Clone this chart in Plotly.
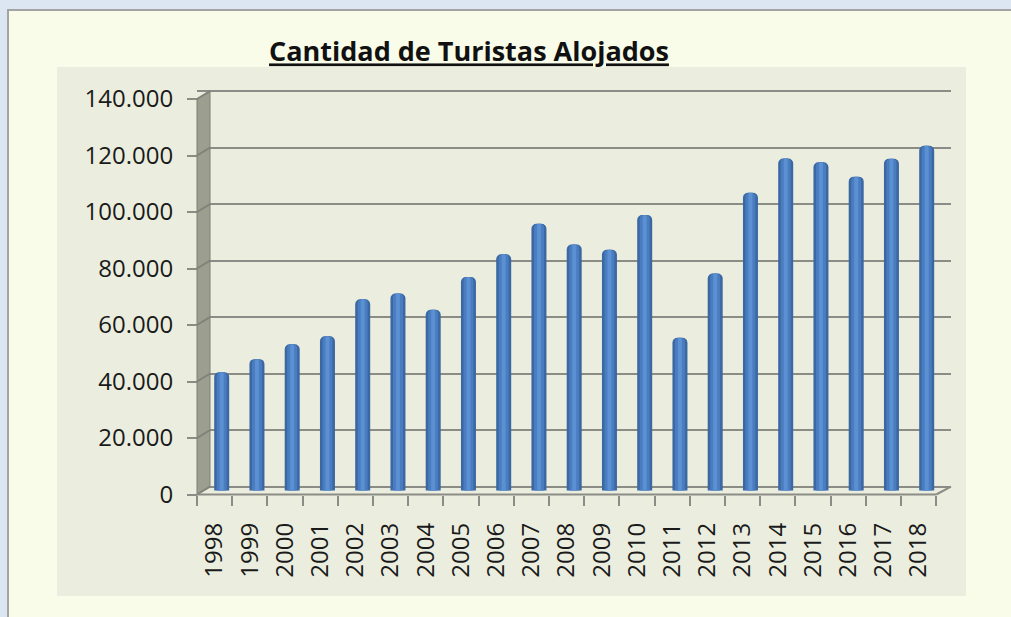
import plotly.graph_objects as go

# ---------------- data ----------------
years = ["1998", "1999", "2000", "2001", "2002", "2003", "2004", "2005", "2006", "2007",
         "2008", "2009", "2010", "2011", "2012", "2013", "2014", "2015", "2016", "2017", "2018"]
turistas = [41900, 46500, 51800, 54600, 67700, 69700, 64000, 75600, 83600, 94400,
            87100, 85200, 97500, 54100, 76800, 105400, 117500, 116200, 111100, 117400, 122000]
y_tickvals = [0, 20000, 40000, 60000, 80000, 100000, 120000, 140000]
y_ticktext = ["0", "20.000", "40.000", "60.000", "80.000", "100.000", "120.000", "140.000"]
title_text = "Cantidad de Turistas Alojados"

# ---------------- geometry (pixels) ----------------
W, H = 1011, 617
L, R, T, B = 197, 60, 90, 122          # plot area: x 197..951, y 90..495
PW, PH = W - L - R, H - T - B
bottom_px = H - B
K = 354.0                               # data units per pixel (vertical)
back0, mid0, front0 = 486.6, 490.5, 494.5   # pixel rows of value 0 on back / mid / front planes
slot = 35.25
bar_c0 = 221.7                          # pixel of first bar centre (mid plane)
front_slot = 35.2
depth_dx = 13                           # back wall is 13 px right of front

def yr(zero_px):
    return [(zero_px - bottom_px) * K, (zero_px - T) * K]

def px(xp):
    return (xp - L) / PW

def py(yp):
    return (bottom_px - yp) / PH

# colours
paper_blue = "#dce6f2"
frame_fill = "#f8fce9"
plot_fill = "#ebeedf"
grid_col = "#8c8c86"
wall_col = "#9c9f8f"

fig = go.Figure()

# empty trace on the back-wall axes so their gridlines are drawn
fig.add_trace(go.Scatter(x=years, y=[None] * len(years), xaxis="x", yaxis="y",
                         mode="markers", showlegend=False, hoverinfo="skip"))

# cylinder-like bars: dark outer, mid, light centre
bar_layers = [(15 / slot, "#3b67a2", 5), (10 / slot, "#4a7dc0", 4), (4 / slot, "#5b90d3", 2)]
for w, c, cr in bar_layers:
    fig.add_trace(go.Bar(x=years, y=turistas, width=w, marker=dict(color=c, line=dict(width=0), cornerradius=cr),
                         xaxis="x", yaxis="y2", hoverinfo="x+y", showlegend=False))

# invisible trace to activate front axes
fig.add_trace(go.Scatter(x=years, y=[None] * len(years), xaxis="x2", yaxis="y3",
                         mode="markers", showlegend=False, hoverinfo="skip"))

shapes = []
# outer frame and inner plot background (paper coords)
shapes.append(dict(type="rect", xref="paper", yref="paper", layer="below",
                   x0=px(8), x1=px(1030), y0=py(10), y1=py(640),
                   fillcolor=frame_fill, line=dict(color="#a3a3a3", width=2)))
shapes.append(dict(type="rect", xref="paper", yref="paper", layer="below",
                   x0=px(57), x1=px(966), y0=py(67), y1=py(596),
                   fillcolor=plot_fill, line=dict(width=0)))

# side wall
top_v = y_tickvals[-1]
back_top = back0 - top_v / K
front_top = front0 - top_v / K
wall_path = (f"M {px(L)},{py(front0)} L {px(L)},{py(front_top)} "
             f"L {px(L + depth_dx)},{py(back_top)} L {px(L + depth_dx)},{py(back0)} Z")
shapes.append(dict(type="path", path=wall_path, xref="paper", yref="paper", layer="above",
                   fillcolor=wall_col, line=dict(color="#7d8072", width=1)))
for v in y_tickvals:
    shapes.append(dict(type="line", xref="paper", yref="paper", layer="above",
                       x0=px(L), y0=py(front0 - v / K), x1=px(L + depth_dx), y1=py(back0 - v / K),
                       line=dict(color="#808379", width=2)))

# floor edges
front_right = L + front_slot * len(years)
shapes.append(dict(type="line", xref="paper", yref="paper", layer="above",
                   x0=px(L), y0=py(front0), x1=px(front_right), y1=py(front0),
                   line=dict(color=grid_col, width=2)))
shapes.append(dict(type="line", xref="paper", yref="paper", layer="above",
                   x0=px(front_right), y0=py(front0), x1=px(W - R), y1=py(back0),
                   line=dict(color=grid_col, width=2)))

fig.update_layout(
    width=W, height=H,
    margin=dict(l=L, r=R, t=T, b=B, pad=0),
    paper_bgcolor=paper_blue,
    plot_bgcolor="rgba(0,0,0,0)",
    barmode="overlay",
    title=dict(text=title_text, x=469 / W, xanchor="center", xref="container",
               y=1 - 52 / H, yanchor="middle", yref="container",
               font=dict(family="Open Sans", size=27, color="#111111", weight="bold", lineposition="under")),
    font=dict(family="Open Sans", color="#1a1a1a"),
    shapes=shapes,
    xaxis=dict(type="category", range=[(L - bar_c0) / slot, (W - R - bar_c0) / slot],
               showticklabels=False, showgrid=False, zeroline=False, showline=False, ticks=""),
    xaxis2=dict(type="category", overlaying="x", anchor="y", side="bottom",
                range=[-0.5, -0.5 + PW / front_slot], tickson="boundaries",
                ticks="outside", ticklen=10, tickwidth=2, tickcolor=grid_col,
                tickangle=-90, tickfont=dict(size=24, color="#1a1a1a"),
                showgrid=False, zeroline=False, showline=False, ticklabelstandoff=22),
    yaxis=dict(range=yr(back0), tickmode="array", tickvals=y_tickvals, showticklabels=False,
               showgrid=True, gridcolor=grid_col, gridwidth=2, zeroline=False, showline=False, ticks=""),
    yaxis2=dict(range=yr(mid0), overlaying="y", visible=False),
    yaxis3=dict(range=yr(front0), overlaying="y", anchor="free", position=0, side="left",
                tickmode="array", tickvals=y_tickvals, ticktext=y_ticktext,
                ticks="outside", ticklen=10, tickwidth=2, tickcolor=grid_col,
                tickfont=dict(size=24, color="#1a1a1a"), ticklabelstandoff=9,
                showgrid=False, zeroline=False, showline=False),
)

fig.write_html("out.html", config={"displayModeBar": False},
               post_script="document.body.style.margin='0px';")
